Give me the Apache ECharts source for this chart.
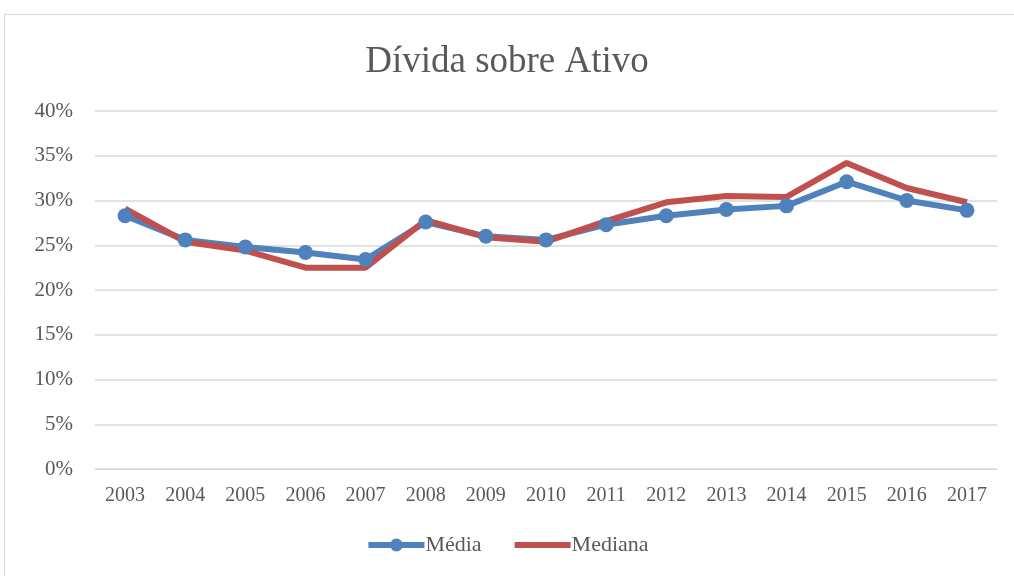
<!DOCTYPE html>
<html>
<head>
<meta charset="utf-8">
<script src="https://cdn.jsdelivr.net/npm/echarts@6/dist/echarts.min.js"></script>
<style>
html, body { margin: 0; padding: 0; background: #fff; }
#chart { width: 1014px; height: 576px; }
</style>
</head>
<body>
<div id="chart"></div>
<script>
const years = ['2003', '2004', '2005', '2006', '2007', '2008', '2009', '2010', '2011', '2012', '2013', '2014', '2015', '2016', '2017']
const media = [28.3, 25.6, 24.8, 24.2, 23.4, 27.6, 26.0, 25.6, 27.3, 28.3, 29.0, 29.4, 32.1, 30.0, 28.9]
const mediana = [29.1, 25.4, 24.4, 22.5, 22.5, 27.8, 25.9, 25.4, 27.7, 29.8, 30.5, 30.4, 34.2, 31.4, 29.8]

const font = 'Liberation Serif'
const textColor = '#595959'

let chart = echarts.init(document.getElementById('chart'))
let option = {
  animation: false,
  graphic: [{
    type: 'rect',
    shape: { x: 4.5, y: 14.5, width: 1030, height: 600 },
    style: { fill: 'none', stroke: '#d9d9d9', lineWidth: 1 },
    silent: true
  }],
  title: {
    text: 'Dívida sobre Ativo',
    left: 'center',
    top: 39,
    textStyle: {
      fontFamily: font,
      fontWeight: 'normal',
      fontSize: 37,
      color: textColor
    }
  },
  legend: {
    bottom: 15,
    left: 'center',
    itemWidth: 56,
    itemHeight: 16,
    itemGap: 30,
    lineStyle: { width: 6 },
    textStyle: {
      fontFamily: font,
      fontSize: 22,
      color: textColor,
      padding: [0, 0, 0, -4]
    },
    data: [
      { name: 'Média' },
      { name: 'Mediana', itemStyle: { opacity: 0 } }
    ]
  },
  grid: {
    left: 95,
    right: 17,
    top: 111,
    bottom: 107
  },
  xAxis: {
    type: 'category',
    data: years,
    boundaryGap: true,
    axisLine: { lineStyle: { color: '#d9d9d9' } },
    axisTick: { show: false },
    axisLabel: {
      margin: 17,
      fontFamily: font,
      fontSize: 20,
      color: textColor
    }
  },
  yAxis: {
    type: 'value',
    min: 0,
    max: 40,
    interval: 5,
    axisLine: { show: false },
    axisTick: { show: false },
    splitLine: { lineStyle: { color: '#d9d9d9', width: 1.5 } },
    axisLabel: {
      margin: 22,
      formatter: '{value}%',
      fontFamily: font,
      fontSize: 21,
      color: textColor
    }
  },
  series: [
    {
      name: 'Média',
      type: 'line',
      data: media,
      symbol: 'circle',
      symbolSize: 15,
      itemStyle: { color: '#4f81bd' },
      lineStyle: { color: '#4f81bd', width: 6 }
    },
    {
      name: 'Mediana',
      type: 'line',
      data: mediana,
      symbol: 'none',
      itemStyle: { color: '#c0504d' },
      lineStyle: { color: '#c0504d', width: 6 }
    }
  ]
}
chart.setOption(option)
</script>
</body>
</html>
